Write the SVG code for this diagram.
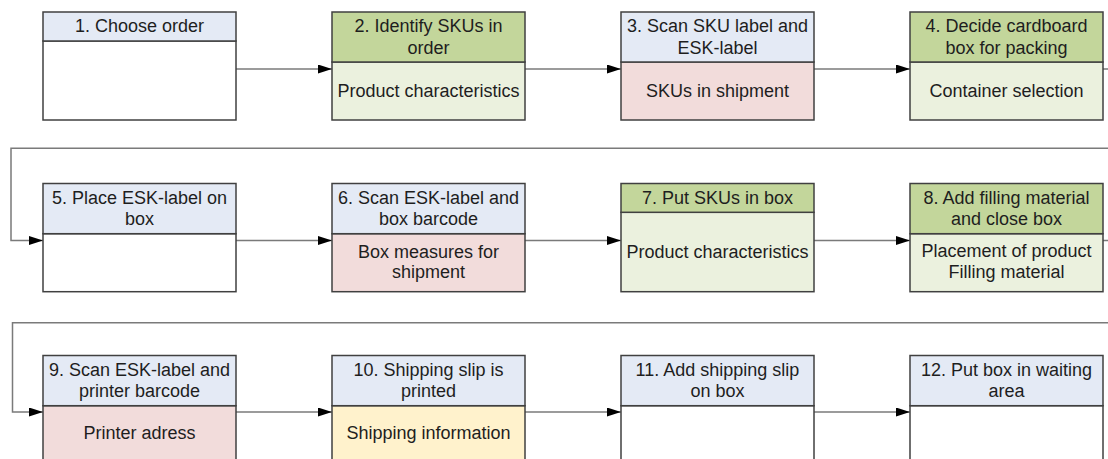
<svg xmlns="http://www.w3.org/2000/svg" width="1108" height="459" viewBox="0 0 1108 459">
<style>
.box{stroke:#404040;stroke-width:1.5}
.hb{fill:#E4EAF5}.hg{fill:#C3D69B}.bw{fill:#FFFFFF}.bg{fill:#EBF1DE}.bp{fill:#F2DCDB}.by{fill:#FFF2CC}
text{font-family:"Liberation Sans",Arial,sans-serif;font-size:18px;fill:#1e1e1e;text-anchor:middle}
.cn{fill:none;stroke:#7a7a7a;stroke-width:1.5}
</style>
<defs>
<marker id="ah" markerWidth="14" markerHeight="9" refX="14" refY="4.5" orient="auto" markerUnits="userSpaceOnUse">
<path d="M0,0 L14,4.5 L0,9 Z" fill="#000"/>
</marker>
</defs>
<rect width="1108" height="459" fill="#fff"/>
<g id="connectors">
<path class="cn" d="M236,69 H332" marker-end="url(#ah)"/>
<path class="cn" d="M525,69 H621" marker-end="url(#ah)"/>
<path class="cn" d="M814,69 H910" marker-end="url(#ah)"/>
<path class="cn" d="M1103,69 H1125 V148.3 H11 V240.5 H43" marker-end="url(#ah)"/>
<path class="cn" d="M236,240.5 H332" marker-end="url(#ah)"/>
<path class="cn" d="M525,240.5 H621" marker-end="url(#ah)"/>
<path class="cn" d="M814,240.5 H910" marker-end="url(#ah)"/>
<path class="cn" d="M1103,240.5 H1125 V322.7 H12.5 V412 H43" marker-end="url(#ah)"/>
<path class="cn" d="M236,412 H332" marker-end="url(#ah)"/>
<path class="cn" d="M525,412 H621" marker-end="url(#ah)"/>
<path class="cn" d="M814,412 H910" marker-end="url(#ah)"/>
</g>
<g id="n1">
<rect class="box bw" x="43" y="41" width="193" height="79"/>
<rect class="box hb" x="43" y="12" width="193" height="29"/>
<text x="139.5" y="32">1. Choose order</text>
</g>
<g id="n2">
<rect class="box bg" x="332" y="62" width="193" height="58"/>
<rect class="box hg" x="332" y="12" width="193" height="50"/>
<text x="428.5" y="32">2. Identify SKUs in</text>
<text x="428.5" y="53.5">order</text>
<text x="428.5" y="97">Product characteristics</text>
</g>
<g id="n3">
<rect class="box bp" x="621" y="62" width="193" height="58"/>
<rect class="box hb" x="621" y="12" width="193" height="50"/>
<text x="717.5" y="32">3. Scan SKU label and</text>
<text x="717.5" y="53.5">ESK-label</text>
<text x="717.5" y="97">SKUs in shipment</text>
</g>
<g id="n4">
<rect class="box bg" x="910" y="62" width="193" height="58"/>
<rect class="box hg" x="910" y="12" width="193" height="50"/>
<text x="1006.5" y="32">4. Decide cardboard</text>
<text x="1006.5" y="53.5">box for packing</text>
<text x="1006.5" y="97">Container selection</text>
</g>
<g id="n5">
<rect class="box bw" x="43" y="233.7" width="193" height="58"/>
<rect class="box hb" x="43" y="183.5" width="193" height="50.2"/>
<text x="139.5" y="203.5">5. Place ESK-label on</text>
<text x="139.5" y="225">box</text>
</g>
<g id="n6">
<rect class="box bp" x="332" y="233.7" width="193" height="58"/>
<rect class="box hb" x="332" y="183.5" width="193" height="50.2"/>
<text x="428.5" y="203.5">6. Scan ESK-label and</text>
<text x="428.5" y="225">box barcode</text>
<text x="428.5" y="257.5">Box measures for</text>
<text x="428.5" y="278">shipment</text>
</g>
<g id="n7">
<rect class="box bg" x="621" y="212.3" width="193" height="79.4"/>
<rect class="box hg" x="621" y="183.5" width="193" height="28.8"/>
<text x="717.5" y="203.5">7. Put SKUs in box</text>
<text x="717.5" y="257.5">Product characteristics</text>
</g>
<g id="n8">
<rect class="box bg" x="910" y="233.7" width="193" height="58"/>
<rect class="box hg" x="910" y="183.5" width="193" height="50.2"/>
<text x="1006.5" y="203.5">8. Add filling material</text>
<text x="1006.5" y="225">and close box</text>
<text x="1006.5" y="256.5">Placement of product</text>
<text x="1006.5" y="278">Filling material</text>
</g>
<g id="n9">
<rect class="box bp" x="43" y="405.7" width="193" height="58"/>
<rect class="box hb" x="43" y="355.5" width="193" height="50.2"/>
<text x="139.5" y="375.5">9. Scan ESK-label and</text>
<text x="139.5" y="397">printer barcode</text>
<text x="139.5" y="439">Printer adress</text>
</g>
<g id="n10">
<rect class="box by" x="332" y="405.7" width="193" height="58"/>
<rect class="box hb" x="332" y="355.5" width="193" height="50.2"/>
<text x="428.5" y="375.5">10. Shipping slip is</text>
<text x="428.5" y="397">printed</text>
<text x="428.5" y="439">Shipping information</text>
</g>
<g id="n11">
<rect class="box bw" x="621" y="405.7" width="193" height="58"/>
<rect class="box hb" x="621" y="355.5" width="193" height="50.2"/>
<text x="717.5" y="375.5">11. Add shipping slip</text>
<text x="717.5" y="397">on box</text>
</g>
<g id="n12">
<rect class="box bw" x="910" y="405.7" width="193" height="58"/>
<rect class="box hb" x="910" y="355.5" width="193" height="50.2"/>
<text x="1006.5" y="375.5">12. Put box in waiting</text>
<text x="1006.5" y="397">area</text>
</g>
</svg>
